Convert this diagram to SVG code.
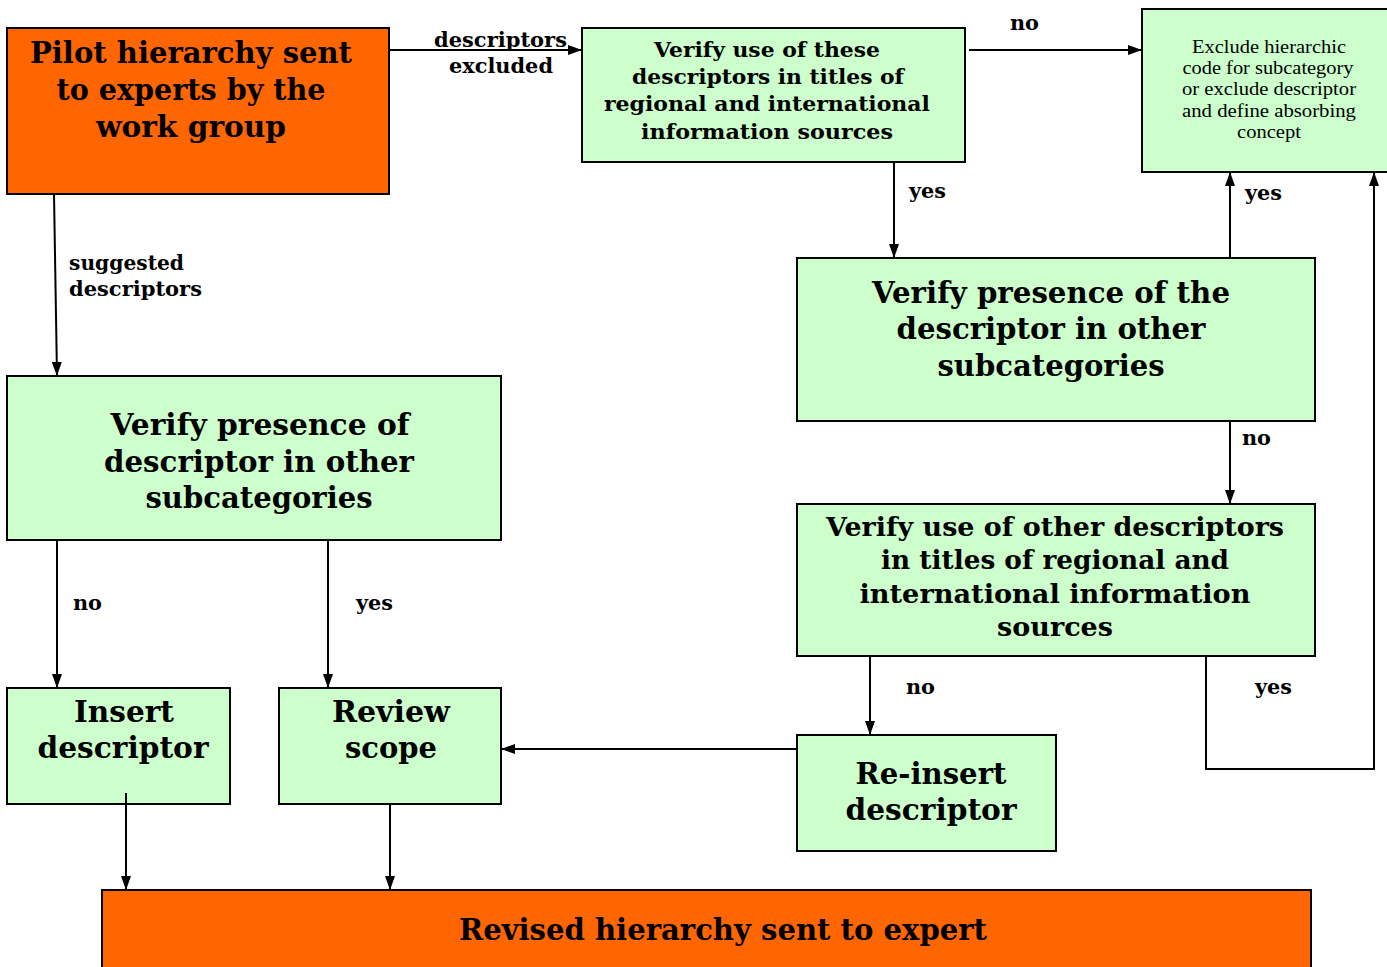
<svg xmlns="http://www.w3.org/2000/svg" width="1387" height="967" viewBox="0 0 1387 967">
<style>
.box{fill:#CCFFCC;stroke:#000;stroke-width:2}
.org{fill:#FF6600;stroke:#000;stroke-width:2}
text{font-family:"DejaVu Serif","Liberation Serif",serif;fill:#000}
.t{font-weight:bold;text-anchor:middle}
.big{font-size:30px}
.lab{font-weight:bold;font-size:21px}
.thin{font-family:"Liberation Serif","DejaVu Serif",serif;font-weight:normal;text-anchor:middle;font-size:18px}
.c{fill:none;stroke:#000;stroke-width:2}
</style>
<defs>
<marker id="ah" viewBox="0 0 14 10" refX="14" refY="5" markerWidth="14" markerHeight="10" markerUnits="userSpaceOnUse" orient="auto">
<path d="M0,0 L14,5 L0,10 z" fill="#000"/>
</marker>
</defs>
<rect width="1387" height="967" fill="#fff"/>
<g id="pilot">
<rect class="org" x="7" y="28" width="382" height="166"/>
<text class="t" font-size="29" x="191" y="63" textLength="322" lengthAdjust="spacingAndGlyphs">Pilot hierarchy sent</text>
<text class="t" font-size="29" x="191" y="100" textLength="269" lengthAdjust="spacingAndGlyphs">to experts by the</text>
<text class="t" font-size="29" x="191" y="137" textLength="190" lengthAdjust="spacingAndGlyphs">work group</text>
</g>
<g id="verify-use">
<rect class="box" x="582" y="28" width="383" height="134"/>
<text class="t" font-size="21" x="767" y="57" textLength="226" lengthAdjust="spacingAndGlyphs">Verify use of these</text>
<text class="t" font-size="21" x="768" y="84" textLength="272" lengthAdjust="spacingAndGlyphs">descriptors in titles of</text>
<text class="t" font-size="21" x="767" y="111" textLength="326" lengthAdjust="spacingAndGlyphs">regional and international</text>
<text class="t" font-size="21" x="767" y="139" textLength="252" lengthAdjust="spacingAndGlyphs">information sources</text>
</g>
<g id="exclude">
<rect class="box" x="1142" y="9" width="250" height="163"/>
<text class="thin" x="1269" y="53" textLength="154" lengthAdjust="spacingAndGlyphs">Exclude hierarchic</text>
<text class="thin" x="1268" y="74" textLength="171" lengthAdjust="spacingAndGlyphs">code for subcategory</text>
<text class="thin" x="1269" y="95" textLength="174" lengthAdjust="spacingAndGlyphs">or exclude descriptor</text>
<text class="thin" x="1269" y="117" textLength="174" lengthAdjust="spacingAndGlyphs">and define absorbing</text>
<text class="thin" x="1269" y="138" textLength="64" lengthAdjust="spacingAndGlyphs">concept</text>
</g>
<g id="verify-presence-right">
<rect class="box" x="797" y="258" width="518" height="163"/>
<text class="t big" x="1051" y="303" textLength="358" lengthAdjust="spacingAndGlyphs">Verify presence of the</text>
<text class="t big" x="1051" y="339" textLength="309" lengthAdjust="spacingAndGlyphs">descriptor in other</text>
<text class="t big" x="1051" y="376" textLength="227" lengthAdjust="spacingAndGlyphs">subcategories</text>
</g>
<g id="verify-other">
<rect class="box" x="797" y="504" width="518" height="152"/>
<text class="t" font-size="26" x="1055" y="536" textLength="458" lengthAdjust="spacingAndGlyphs">Verify use of other descriptors</text>
<text class="t" font-size="26" x="1055" y="569" textLength="348" lengthAdjust="spacingAndGlyphs">in titles of regional and</text>
<text class="t" font-size="26" x="1055" y="603" textLength="391" lengthAdjust="spacingAndGlyphs">international information</text>
<text class="t" font-size="26" x="1055" y="636" textLength="116" lengthAdjust="spacingAndGlyphs">sources</text>
</g>
<g id="reinsert">
<rect class="box" x="797" y="735" width="259" height="116"/>
<text class="t big" x="931" y="784" textLength="151" lengthAdjust="spacingAndGlyphs">Re-insert</text>
<text class="t big" x="931" y="820" textLength="171" lengthAdjust="spacingAndGlyphs">descriptor</text>
</g>
<g id="verify-presence-left">
<rect class="box" x="7" y="376" width="494" height="164"/>
<text class="t big" x="260" y="435" textLength="299" lengthAdjust="spacingAndGlyphs">Verify presence of</text>
<text class="t big" x="259" y="472" textLength="310" lengthAdjust="spacingAndGlyphs">descriptor in other</text>
<text class="t big" x="259" y="508" textLength="227" lengthAdjust="spacingAndGlyphs">subcategories</text>
</g>
<g id="insert">
<rect class="box" x="7" y="688" width="223" height="116"/>
<text class="t big" x="124" y="722" textLength="100" lengthAdjust="spacingAndGlyphs">Insert</text>
<text class="t big" x="123" y="758" textLength="171" lengthAdjust="spacingAndGlyphs">descriptor</text>
</g>
<g id="review">
<rect class="box" x="279" y="688" width="222" height="116"/>
<text class="t big" x="391" y="722" textLength="118" lengthAdjust="spacingAndGlyphs">Review</text>
<text class="t big" x="391" y="758" textLength="92" lengthAdjust="spacingAndGlyphs">scope</text>
</g>
<g id="revised">
<rect class="org" x="102" y="890" width="1209" height="90"/>
<text class="t big" x="723" y="940" textLength="528" lengthAdjust="spacingAndGlyphs">Revised hierarchy sent to expert</text>
</g>
<g id="connectors">
<line class="c" x1="389" y1="50" x2="582" y2="50" marker-end="url(#ah)"/>
<line class="c" x1="969" y1="50" x2="1142" y2="50" marker-end="url(#ah)"/>
<line class="c" x1="894" y1="162" x2="894" y2="258" marker-end="url(#ah)"/>
<line class="c" x1="1230" y1="258" x2="1230" y2="172" marker-end="url(#ah)"/>
<line class="c" x1="1230" y1="421" x2="1230" y2="504" marker-end="url(#ah)"/>
<line class="c" x1="870" y1="656" x2="870" y2="735" marker-end="url(#ah)"/>
<polyline class="c" points="1206,656 1206,769 1374,769 1374,172" marker-end="url(#ah)"/>
<line class="c" x1="797" y1="749" x2="501" y2="749" marker-end="url(#ah)"/>
<line class="c" x1="54" y1="194" x2="57" y2="376" marker-end="url(#ah)"/>
<line class="c" x1="57" y1="540" x2="57" y2="688" marker-end="url(#ah)"/>
<line class="c" x1="328" y1="540" x2="328" y2="688" marker-end="url(#ah)"/>
<line class="c" x1="126" y1="793" x2="126" y2="890" marker-end="url(#ah)"/>
<line class="c" x1="390" y1="804" x2="390" y2="890" marker-end="url(#ah)"/>
<text class="lab" x="434" y="47" textLength="133" lengthAdjust="spacingAndGlyphs">descriptors</text>
<text class="lab" x="449" y="73" textLength="104" lengthAdjust="spacingAndGlyphs">excluded</text>
<text class="lab" x="1010" y="30" textLength="29" lengthAdjust="spacingAndGlyphs">no</text>
<text class="lab" x="909" y="198" textLength="37" lengthAdjust="spacingAndGlyphs">yes</text>
<text class="lab" x="1245" y="200" textLength="37" lengthAdjust="spacingAndGlyphs">yes</text>
<text class="lab" x="1242" y="445" textLength="29" lengthAdjust="spacingAndGlyphs">no</text>
<text class="lab" x="906" y="694" textLength="29" lengthAdjust="spacingAndGlyphs">no</text>
<text class="lab" x="1255" y="694" textLength="37" lengthAdjust="spacingAndGlyphs">yes</text>
<text class="lab" x="69" y="270" textLength="115" lengthAdjust="spacingAndGlyphs">suggested</text>
<text class="lab" x="69" y="296" textLength="133" lengthAdjust="spacingAndGlyphs">descriptors</text>
<text class="lab" x="73" y="610" textLength="29" lengthAdjust="spacingAndGlyphs">no</text>
<text class="lab" x="356" y="610" textLength="37" lengthAdjust="spacingAndGlyphs">yes</text>
</g>
</svg>
